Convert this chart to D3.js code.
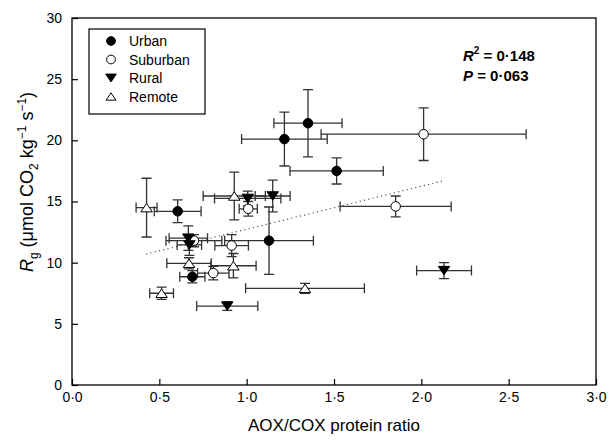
<!DOCTYPE html>
<html><head><meta charset="utf-8">
<script src="https://cdn.jsdelivr.net/npm/d3@7"></script>
<style>body{margin:0;background:#fff}svg{display:block}text{font-family:"Liberation Sans",Arial,sans-serif}</style>
</head><body><svg id="c" width="611" height="440"></svg>
<script>
// [x, y, xErr, yErr]
const urban = [[1.351,21.4,0.195,2.75],[1.216,20.1,0.245,2.2],[1.515,17.5,0.267,1.07],[0.605,14.2,0.134,0.93],[1.128,11.8,0.254,2.75],[0.689,8.85,0.072,0.5]];
const suburban = [[2.013,20.5,0.587,2.15],[1.853,14.6,0.318,0.85],[1.009,14.4,0.052,0.6],[0.914,11.4,0.096,0.9],[0.809,9.15,0.09,0.55],[0.698,11.8,0.16,0.5]];
const rural = [[1.006,15.25,0.19,0.6],[1.149,15.45,0.1,1.3],[0.666,12.0,0.11,1.0],[0.672,11.45,0.07,0.85],[0.889,6.45,0.175,0.35],[2.13,9.35,0.157,0.65]];
const remote = [[0.427,14.5,0.06,2.4],[0.929,15.45,0.178,1.95],[0.67,9.95,0.127,0.45],[0.924,9.75,0.13,1.0],[0.513,7.5,0.068,0.5],[1.334,7.9,0.34,0.4]];
const xTicks = [0,0.5,1,1.5,2,2.5,3];
const yTicks = [0,5,10,15,20,25,30];
const fitLine = {slope:3.52, intercept:9.21, x0:0.424, x1:2.122};
const legendNames = ["Urban","Suburban","Rural","Remote"];
const statsText = ["0·148","0·063"];

const svg = d3.select("#c");
const L=72,R=596,T=18,B=385;
const x = d3.scaleLinear().domain([0,3]).range([L,R]);
const y = d3.scaleLinear().domain([0,30]).range([B,T]);
const fmt = d => d3.format(".1f")(d).replace(".","·");

// frame
svg.append("rect").attr("x",L).attr("y",T).attr("width",R-L).attr("height",B-T).attr("fill","none").attr("stroke","#000").attr("stroke-width",1.3);
// axes
const xa = svg.append("g").attr("transform",`translate(0,${B})`).call(d3.axisBottom(x).tickValues(xTicks).tickFormat(fmt).tickSizeInner(-6).tickSizeOuter(0).tickPadding(10));
const ya = svg.append("g").attr("transform",`translate(${L},0)`).call(d3.axisLeft(y).tickValues(yTicks).tickFormat(d3.format("d")).tickSizeInner(-6).tickSizeOuter(0).tickPadding(10));
[xa,ya].forEach(a=>{a.select(".domain").remove();a.selectAll("line").attr("stroke","#000").attr("stroke-width",1.2);a.selectAll("text").attr("font-size",14).attr("fill","#000").attr("font-family","Liberation Sans, Arial, sans-serif");});
xa.selectAll("text").attr("dy","0.5em");

// regression line
svg.append("line").attr("x1",x(fitLine.x0)).attr("y1",y(fitLine.intercept+fitLine.slope*fitLine.x0))
  .attr("x2",x(fitLine.x1)).attr("y2",y(fitLine.intercept+fitLine.slope*fitLine.x1))
  .attr("stroke","#555").attr("stroke-width",1.2).attr("stroke-dasharray","1.2,3.2");

const groups = [
  {data:urban, type:"circle", fill:"#000"},
  {data:suburban, type:"circle", fill:"#fff"},
  {data:rural, type:"down", fill:"#000"},
  {data:remote, type:"up", fill:"#fff"}
];
const eb = svg.append("g").attr("stroke","#333").attr("stroke-width",1.3).attr("fill","none");
const cap=5;
groups.forEach(g=>{
  g.data.forEach(d=>{
    const cx=x(d[0]), cy=y(d[1]);
    const xl=x(d[0]-d[2]), xr=x(d[0]+d[2]), yt=y(d[1]+d[3]), yb=y(d[1]-d[3]);
    eb.append("path").attr("d",`M${xl},${cy}H${xr}M${xl},${cy-cap}V${cy+cap}M${xr},${cy-cap}V${cy+cap}M${cx},${yt}V${yb}M${cx-cap},${yt}H${cx+cap}M${cx-cap},${yb}H${cx+cap}`);
  });
});
function marker(sel,type,fill,cx,cy,s){
  if(type==="circle") sel.append("circle").attr("cx",cx).attr("cy",cy).attr("r",s*0.95);
  else {
    const h=s*1.7, w=s*1.15;
    const p = type==="down" ? `M${cx-w},${cy-h/2}L${cx+w},${cy-h/2}L${cx},${cy+h/2}Z` : `M${cx-w},${cy+h/2}L${cx+w},${cy+h/2}L${cx},${cy-h/2}Z`;
    sel.append("path").attr("d",p);
  }
  sel.selectAll("*").attr("fill",fill).attr("stroke","#000").attr("stroke-width",1);
}
groups.forEach(g=>{
  g.data.forEach(d=>{ marker(svg.append("g"),g.type,g.fill,x(d[0]),y(d[1]),5); });
});

// legend
svg.append("rect").attr("x",89).attr("y",29).attr("width",116).attr("height",85).attr("fill","#fff").attr("stroke","#000").attr("stroke-width",1.2);
legendNames.forEach((n,i)=>{
  const ly=41+i*18.5;
  marker(svg.append("g"),groups[i].type,groups[i].fill,111,ly,i===3?4.3:4.6);
  svg.append("text").attr("x",129).attr("y",ly+5).attr("font-size",14).text(n);
});

// stats
const st = svg.append("text").attr("x",463).attr("y",61).attr("font-size",15).attr("font-weight","bold");
st.append("tspan").attr("font-style","italic").text("R");
st.append("tspan").attr("font-size",10).attr("dy",-7).text("2");
st.append("tspan").attr("dy",7).text(" = "+statsText[0]);
const st2 = svg.append("text").attr("x",463).attr("y",81).attr("font-size",15).attr("font-weight","bold");
st2.append("tspan").attr("font-style","italic").text("P");
st2.append("tspan").text(" = "+statsText[1]);

// axis titles
svg.append("text").attr("x",(L+R)/2).attr("y",431).attr("text-anchor","middle").attr("font-size",17).text("AOX/COX protein ratio");
const yl = svg.append("text").attr("transform","translate(33,182) rotate(-90)").attr("text-anchor","middle").attr("font-size",18);
yl.append("tspan").attr("font-style","italic").text("R");
yl.append("tspan").attr("font-size",12).attr("dy",5).text("g");
yl.append("tspan").attr("dy",-5).text(" (μmol CO");
yl.append("tspan").attr("font-size",12).attr("dy",5).text("2");
yl.append("tspan").attr("dy",-5).text(" kg");
yl.append("tspan").attr("font-size",12).attr("dy",-7).text("−1");
yl.append("tspan").attr("dy",7).text(" s");
yl.append("tspan").attr("font-size",12).attr("dy",-7).text("−1");
yl.append("tspan").attr("dy",7).text(")");
</script></body></html>
